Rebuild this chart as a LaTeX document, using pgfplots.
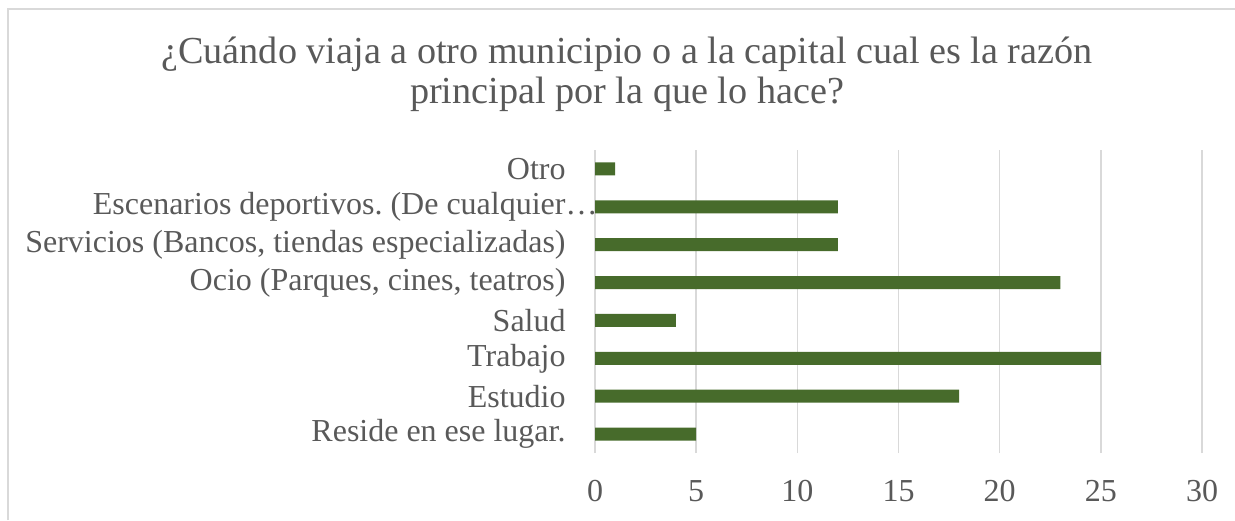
\documentclass[border=0pt]{standalone}
\usepackage{fontspec}
\setmainfont{Liberation Serif}
\usepackage{pgfplots}
\pgfplotsset{compat=1.18}
\definecolor{barc}{HTML}{476B2B}
\definecolor{gridc}{HTML}{D9D9D9}
\definecolor{txt}{HTML}{595959}
\frenchspacing
\begin{document}
\begin{tikzpicture}
\path[use as bounding box] (0,0) rectangle (617.5pt,260pt);
\draw[gridc, line width=0.75pt] (4pt,0) -- (4pt,255.5pt) -- (617.5pt,255.5pt);
\node[txt, align=center, font=\fontsize{19.1}{20}\selectfont] at (313.5pt,223pt) {¿Cuándo viaja a otro municipio o a la capital cual es la razón\\principal por la que lo hace?};
\begin{axis}[at={(297.5pt,33.5pt)}, anchor=south west, scale only axis,
  width=303.5pt, height=151.5pt,
  xbar, bar width=6.5pt,
  xmin=0, xmax=30, ymin=-0.5, ymax=7.5,
  xtick={0,5,...,30}, ytick={0,...,7},
  yticklabels={Reside en ese lugar., Estudio, Trabajo, Salud, Ocio (Parques{,} cines{,} teatros), Servicios (Bancos{,} tiendas especializadas), Escenarios deportivos. (De cualquier\rlap{…}, Otro},
  axis line style={draw=none}, major tick length=0pt,
  xmajorgrids, grid style={gridc, line width=0.75pt},
  tick label style={txt, font=\fontsize{16}{16}\selectfont, inner sep=0pt},
  /pgf/number format/assume math mode=true,
  yticklabel style={anchor=east, xshift=-14.5pt},
  xticklabel style={anchor=north, yshift=-13.5pt},
  clip=false]
\addplot[fill=barc, draw=none] coordinates {(5,0) (18,1) (25,2) (4,3) (23,4) (12,5) (12,6) (1,7)};
\end{axis}
\end{tikzpicture}
\end{document}
